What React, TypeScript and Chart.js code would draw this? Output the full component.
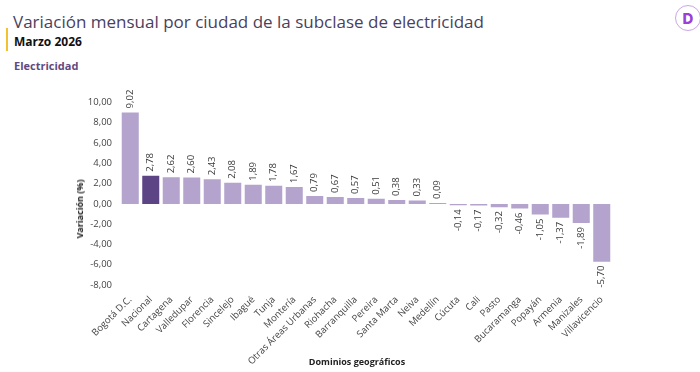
import React, { useEffect, useRef } from "react";
import { Chart, registerables } from "chart.js";

Chart.register(...registerables);

const categories = [
  "Bogotá D.C.", "Nacional", "Cartagena", "Valledupar", "Florencia", "Sincelejo",
  "Ibagué", "Tunja", "Montería", "Otras Áreas Urbanas", "Riohacha", "Barranquilla",
  "Pereira", "Santa Marta", "Neiva", "Medellín", "Cúcuta", "Cali", "Pasto",
  "Bucaramanga", "Popayán", "Armenia", "Manizales", "Villavicencio",
];
const values = [
  9.02, 2.78, 2.62, 2.6, 2.43, 2.08, 1.89, 1.78, 1.67, 0.79, 0.67, 0.57,
  0.51, 0.38, 0.33, 0.09, -0.14, -0.17, -0.32, -0.46, -1.05, -1.37, -1.89, -5.7,
];
const highlight = "Nacional";
const yMin = -8;
const yMax = 10;
const yStep = 2;

const LIGHT = "#b3a3cd";
const DARK = "#5d4585";
const FONT = "'Open Sans', 'Noto Sans', sans-serif";

const fmt = (v: number) => v.toFixed(2).replace(".", ",");

const labelPlugin = {
  id: "barLabels",
  afterDatasetsDraw(chart: any) {
    const ctx = chart.ctx;
    const meta = chart.getDatasetMeta(0);
    ctx.save();
    ctx.font = `9.5px ${FONT}`;
    ctx.fillStyle = "#3a3a3a";
    ctx.textBaseline = "middle";
    meta.data.forEach((bar: any, i: number) => {
      const v = values[i];
      ctx.save();
      if (v >= 0) {
        ctx.translate(bar.x, bar.y - 4);
        ctx.rotate(-Math.PI / 2);
        ctx.textAlign = "left";
      } else {
        ctx.translate(bar.x, bar.y + 4);
        ctx.rotate(-Math.PI / 2);
        ctx.textAlign = "right";
      }
      ctx.fillText(fmt(v), 0, 0);
      ctx.restore();
    });
    ctx.restore();
  },
};

export default function App() {
  const ref = useRef<HTMLCanvasElement | null>(null);
  useEffect(() => {
    if (!ref.current) return;
    const chart = new Chart(ref.current, {
      type: "bar",
      data: {
        labels: categories,
        datasets: [
          {
            data: values,
            backgroundColor: categories.map((c) => (c === highlight ? DARK : LIGHT)),
            barPercentage: 0.83,
            categoryPercentage: 1,
          },
        ],
      },
      options: {
        animation: false,
        responsive: false,
        maintainAspectRatio: false,
        layout: { padding: { top: 22.5, left: 80, right: 88, bottom: 4 } },
        plugins: {
          legend: { display: false },
          tooltip: { enabled: false },
        },
        scales: {
          x: {
            grid: { display: false, drawTicks: false },
            border: { display: false },
            ticks: {
              color: "#444444",
              font: { family: FONT, size: 9.5 },
              maxRotation: 45,
              minRotation: 45,
              autoSkip: false,
              padding: 9,
            },
            afterFit: (s: any) => {
              s.paddingLeft = 0;
              s.paddingRight = 0;
              s.height = 83;
            },
          },
          y: {
            min: yMin,
            max: yMax,
            grid: { display: false, drawTicks: false },
            border: { display: false },
            ticks: {
              stepSize: yStep,
              color: "#444444",
              font: { family: FONT, size: 9.5 },
              callback: (v: any) => fmt(Number(v)),
              padding: 8,
            },
            afterFit: (s: any) => {
              s.width = 40;
              s.paddingTop = 0;
              s.paddingBottom = 0;
            },
          },
        },
      },
      plugins: [labelPlugin],
    });
    return () => chart.destroy();
  }, []);

  return (
    <div
      style={{
        position: "fixed",
        left: 0,
        top: 0,
        width: 700,
        height: 372,
        background: "#ffffff",
        fontFamily: FONT,
        overflow: "hidden",
      }}
    >
      <div style={{ position: "absolute", left: 6, top: 28, width: 2, height: 23, background: "#f2c230" }} />
      <div
        style={{
          position: "absolute",
          left: 13,
          top: 10,
          fontSize: 17,
          lineHeight: "24px",
          color: "#4a3f60",
          whiteSpace: "nowrap",
        }}
      >
        Variación mensual por ciudad de la subclase de electricidad
      </div>
      <div
        style={{
          position: "absolute",
          left: 14,
          top: 34,
          fontSize: 12,
          lineHeight: "16px",
          fontWeight: 700,
          color: "#111111",
        }}
      >
        Marzo 2026
      </div>
      <div
        style={{
          position: "absolute",
          left: 14,
          top: 58,
          fontSize: 11,
          lineHeight: "15px",
          fontWeight: 700,
          color: "#5f4a80",
        }}
      >
        Electricidad
      </div>
      <div
        style={{
          position: "absolute",
          left: 675,
          top: 5,
          width: 26,
          height: 26,
          borderRadius: "50%",
          border: "1px solid #c9a6e6",
          boxSizing: "border-box",
          display: "flex",
          alignItems: "center",
          justifyContent: "center",
          fontWeight: 800,
          fontSize: 15,
          color: "#9b3fd6",
          fontFamily: "Inter, sans-serif",
        }}
      >
        D
      </div>
      <canvas
        ref={ref}
        width={700}
        height={292}
        style={{ position: "absolute", left: 0, top: 80, width: 700, height: 292 }}
      />
      <div
        style={{
          position: "absolute",
          left: 80,
          top: 209,
          width: 0,
          height: 0,
        }}
      >
        <div
          style={{
            position: "absolute",
            left: 0,
            top: 0,
            transform: "translate(-50%, -50%) rotate(-90deg)",
            fontSize: 9,
            fontWeight: 700,
            color: "#222222",
            whiteSpace: "nowrap",
            lineHeight: "12px",
          }}
        >
          Variación (%)
        </div>
      </div>
      <div
        style={{
          position: "absolute",
          left: 357,
          top: 362,
          width: 0,
          height: 0,
        }}
      >
        <div
          style={{
            position: "absolute",
            left: 0,
            top: 0,
            transform: "translate(-50%, -50%)",
            fontSize: 9,
            fontWeight: 700,
            color: "#222222",
            whiteSpace: "nowrap",
            lineHeight: "12px",
          }}
        >
          Dominios geográficos
        </div>
      </div>
    </div>
  );
}
